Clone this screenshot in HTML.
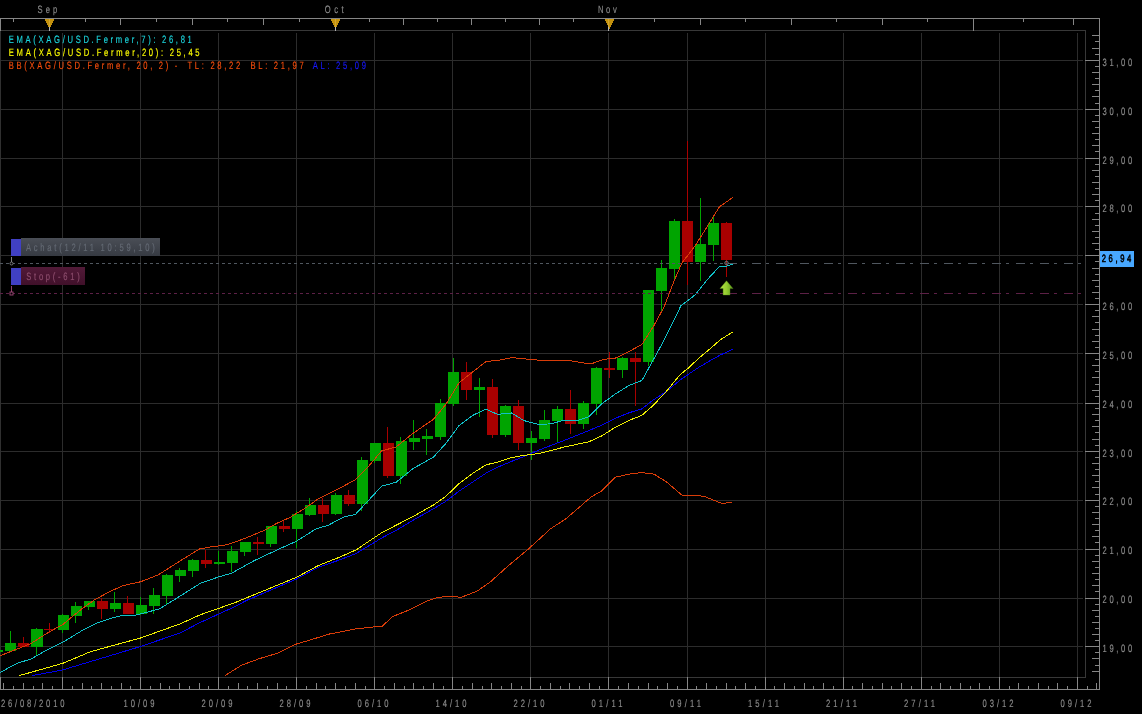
<!DOCTYPE html>
<html lang="fr"><head><meta charset="utf-8"><title>XAG/USD</title>
<style>html,body{margin:0;padding:0;background:#000;overflow:hidden}svg{display:block}text{text-rendering:geometricPrecision}</style>
</head><body>
<svg width="1142" height="714" viewBox="0 0 1142 714"><g shape-rendering="crispEdges">
<rect x="62" y="33" width="1" height="644" fill="#2c2c2c"/>
<rect x="140" y="33" width="1" height="644" fill="#2c2c2c"/>
<rect x="218" y="33" width="1" height="644" fill="#2c2c2c"/>
<rect x="296" y="33" width="1" height="644" fill="#2c2c2c"/>
<rect x="374" y="33" width="1" height="644" fill="#2c2c2c"/>
<rect x="452" y="33" width="1" height="644" fill="#2c2c2c"/>
<rect x="530" y="33" width="1" height="644" fill="#2c2c2c"/>
<rect x="608" y="33" width="1" height="644" fill="#2c2c2c"/>
<rect x="687" y="33" width="1" height="644" fill="#2c2c2c"/>
<rect x="765" y="33" width="1" height="644" fill="#2c2c2c"/>
<rect x="843" y="33" width="1" height="644" fill="#2c2c2c"/>
<rect x="921" y="33" width="1" height="644" fill="#2c2c2c"/>
<rect x="999" y="33" width="1" height="644" fill="#2c2c2c"/>
<rect x="1077" y="33" width="1" height="644" fill="#2c2c2c"/>
<rect x="1" y="60" width="1082" height="1" fill="#2c2c2c"/>
<rect x="1" y="109" width="1082" height="1" fill="#2c2c2c"/>
<rect x="1" y="158" width="1082" height="1" fill="#2c2c2c"/>
<rect x="1" y="206" width="1082" height="1" fill="#2c2c2c"/>
<rect x="1" y="255" width="1082" height="1" fill="#2c2c2c"/>
<rect x="1" y="304" width="1082" height="1" fill="#2c2c2c"/>
<rect x="1" y="353" width="1082" height="1" fill="#2c2c2c"/>
<rect x="1" y="403" width="1082" height="1" fill="#2c2c2c"/>
<rect x="1" y="451" width="1082" height="1" fill="#2c2c2c"/>
<rect x="1" y="500" width="1082" height="1" fill="#2c2c2c"/>
<rect x="1" y="549" width="1082" height="1" fill="#2c2c2c"/>
<rect x="1" y="598" width="1082" height="1" fill="#2c2c2c"/>
<rect x="1" y="646" width="1082" height="1" fill="#2c2c2c"/>
<rect x="0" y="31" width="1" height="646" fill="#303030"/>
<rect x="0" y="30" width="1086" height="1" fill="#383838"/>
<rect x="1085" y="30" width="1" height="648" fill="#383838"/>
<rect x="0" y="677" width="1086" height="1" fill="#383838"/>
</g>
<g shape-rendering="crispEdges">
<rect x="-3" y="650" width="1" height="2" fill="#00a400"/>
<rect x="0" y="650" width="3" height="2" fill="#00a400"/>
<rect x="10" y="631" width="1" height="21" fill="#00a400"/>
<rect x="5" y="643" width="11" height="8" fill="#00a400"/>
<rect x="23" y="637" width="1" height="10" fill="#a80000"/>
<rect x="18" y="643" width="11" height="4" fill="#a80000"/>
<rect x="36" y="628" width="1" height="27" fill="#00a400"/>
<rect x="31" y="629" width="12" height="18" fill="#00a400"/>
<rect x="49" y="623" width="1" height="10" fill="#a80000"/>
<rect x="44" y="629" width="11" height="1" fill="#a80000"/>
<rect x="62" y="614" width="1" height="19" fill="#00a400"/>
<rect x="58" y="615" width="11" height="15" fill="#00a400"/>
<rect x="75" y="602" width="1" height="21" fill="#00a400"/>
<rect x="71" y="606" width="11" height="10" fill="#00a400"/>
<rect x="88" y="601" width="1" height="9" fill="#00a400"/>
<rect x="84" y="601" width="11" height="6" fill="#00a400"/>
<rect x="101" y="598" width="1" height="21" fill="#a80000"/>
<rect x="97" y="601" width="11" height="8" fill="#a80000"/>
<rect x="114" y="592" width="1" height="20" fill="#00a400"/>
<rect x="110" y="603" width="11" height="6" fill="#00a400"/>
<rect x="127" y="596" width="1" height="18" fill="#a80000"/>
<rect x="123" y="603" width="11" height="11" fill="#a80000"/>
<rect x="140" y="597" width="1" height="18" fill="#00a400"/>
<rect x="136" y="605" width="11" height="9" fill="#00a400"/>
<rect x="153" y="588" width="1" height="26" fill="#00a400"/>
<rect x="149" y="595" width="11" height="11" fill="#00a400"/>
<rect x="166" y="574" width="1" height="30" fill="#00a400"/>
<rect x="162" y="575" width="11" height="21" fill="#00a400"/>
<rect x="179" y="568" width="1" height="14" fill="#00a400"/>
<rect x="175" y="570" width="11" height="6" fill="#00a400"/>
<rect x="192" y="559" width="1" height="18" fill="#00a400"/>
<rect x="188" y="560" width="11" height="11" fill="#00a400"/>
<rect x="205" y="550" width="1" height="18" fill="#a80000"/>
<rect x="201" y="560" width="11" height="4" fill="#a80000"/>
<rect x="218" y="551" width="1" height="14" fill="#00a400"/>
<rect x="214" y="562" width="11" height="2" fill="#00a400"/>
<rect x="231" y="546" width="1" height="26" fill="#00a400"/>
<rect x="227" y="551" width="11" height="12" fill="#00a400"/>
<rect x="244" y="542" width="1" height="14" fill="#00a400"/>
<rect x="240" y="542" width="11" height="10" fill="#00a400"/>
<rect x="257" y="537" width="1" height="18" fill="#a80000"/>
<rect x="253" y="542" width="11" height="2" fill="#a80000"/>
<rect x="270" y="526" width="1" height="21" fill="#00a400"/>
<rect x="266" y="526" width="11" height="18" fill="#00a400"/>
<rect x="283" y="520" width="1" height="12" fill="#a80000"/>
<rect x="279" y="526" width="11" height="3" fill="#a80000"/>
<rect x="296" y="511" width="1" height="37" fill="#00a400"/>
<rect x="292" y="514" width="11" height="15" fill="#00a400"/>
<rect x="309" y="498" width="1" height="18" fill="#00a400"/>
<rect x="305" y="505" width="11" height="10" fill="#00a400"/>
<rect x="322" y="498" width="1" height="24" fill="#a80000"/>
<rect x="318" y="505" width="11" height="9" fill="#a80000"/>
<rect x="335" y="493" width="1" height="22" fill="#00a400"/>
<rect x="331" y="495" width="11" height="19" fill="#00a400"/>
<rect x="348" y="490" width="1" height="16" fill="#a80000"/>
<rect x="344" y="495" width="11" height="9" fill="#a80000"/>
<rect x="361" y="457" width="1" height="54" fill="#00a400"/>
<rect x="357" y="460" width="11" height="44" fill="#00a400"/>
<rect x="374" y="443" width="1" height="20" fill="#00a400"/>
<rect x="370" y="443" width="11" height="18" fill="#00a400"/>
<rect x="387" y="427" width="1" height="51" fill="#a80000"/>
<rect x="383" y="443" width="11" height="33" fill="#a80000"/>
<rect x="400" y="437" width="1" height="47" fill="#00a400"/>
<rect x="396" y="441" width="11" height="35" fill="#00a400"/>
<rect x="413" y="420" width="1" height="30" fill="#00a400"/>
<rect x="409" y="438" width="11" height="4" fill="#00a400"/>
<rect x="426" y="429" width="1" height="26" fill="#00a400"/>
<rect x="422" y="436" width="11" height="3" fill="#00a400"/>
<rect x="440" y="399" width="1" height="41" fill="#00a400"/>
<rect x="435" y="403" width="11" height="34" fill="#00a400"/>
<rect x="453" y="358" width="1" height="48" fill="#00a400"/>
<rect x="448" y="372" width="11" height="32" fill="#00a400"/>
<rect x="466" y="362" width="1" height="38" fill="#a80000"/>
<rect x="461" y="372" width="11" height="18" fill="#a80000"/>
<rect x="479" y="378" width="1" height="39" fill="#00a400"/>
<rect x="474" y="387" width="11" height="3" fill="#00a400"/>
<rect x="492" y="379" width="1" height="59" fill="#a80000"/>
<rect x="487" y="387" width="11" height="48" fill="#a80000"/>
<rect x="505" y="405" width="1" height="32" fill="#00a400"/>
<rect x="500" y="406" width="11" height="29" fill="#00a400"/>
<rect x="518" y="400" width="1" height="50" fill="#a80000"/>
<rect x="513" y="406" width="11" height="37" fill="#a80000"/>
<rect x="531" y="431" width="1" height="29" fill="#00a400"/>
<rect x="526" y="438" width="11" height="5" fill="#00a400"/>
<rect x="544" y="410" width="1" height="31" fill="#00a400"/>
<rect x="539" y="420" width="11" height="19" fill="#00a400"/>
<rect x="557" y="406" width="1" height="37" fill="#00a400"/>
<rect x="552" y="409" width="11" height="12" fill="#00a400"/>
<rect x="570" y="390" width="1" height="44" fill="#a80000"/>
<rect x="565" y="409" width="11" height="15" fill="#a80000"/>
<rect x="583" y="401" width="1" height="28" fill="#00a400"/>
<rect x="578" y="403" width="11" height="21" fill="#00a400"/>
<rect x="596" y="367" width="1" height="48" fill="#00a400"/>
<rect x="591" y="368" width="11" height="36" fill="#00a400"/>
<rect x="609" y="352" width="1" height="26" fill="#a80000"/>
<rect x="604" y="368" width="11" height="2" fill="#a80000"/>
<rect x="622" y="357" width="1" height="21" fill="#00a400"/>
<rect x="617" y="358" width="11" height="12" fill="#00a400"/>
<rect x="635" y="352" width="1" height="54" fill="#a80000"/>
<rect x="630" y="358" width="11" height="4" fill="#a80000"/>
<rect x="648" y="290" width="1" height="76" fill="#00a400"/>
<rect x="643" y="290" width="11" height="72" fill="#00a400"/>
<rect x="661" y="260" width="1" height="52" fill="#00a400"/>
<rect x="656" y="268" width="11" height="23" fill="#00a400"/>
<rect x="674" y="219" width="1" height="62" fill="#00a400"/>
<rect x="669" y="221" width="11" height="48" fill="#00a400"/>
<rect x="687" y="141" width="1" height="144" fill="#a80000"/>
<rect x="682" y="221" width="11" height="41" fill="#a80000"/>
<rect x="700" y="198" width="1" height="83" fill="#00a400"/>
<rect x="695" y="244" width="11" height="18" fill="#00a400"/>
<rect x="713" y="215" width="1" height="46" fill="#00a400"/>
<rect x="708" y="223" width="11" height="22" fill="#00a400"/>
<rect x="726" y="222" width="1" height="55" fill="#a80000"/>
<rect x="721" y="223" width="11" height="37" fill="#a80000"/>
</g>
<polyline points="225.2,675.4 242.0,665.0 259.5,658.6 277.0,653.4 294.6,644.6 312.0,639.4 329.6,634.0 355.9,628.9 371.6,627.1 382.0,626.4 392.6,616.6 410.0,609.6 427.7,600.8 438.2,597.3 452.2,596.3 461.0,597.3 476.7,591.4 490.7,581.6 508.2,565.8 529.2,548.3 550.3,529.0 566.2,518.5 578.5,508.0 590.8,497.2 601.6,491.0 615.5,477.2 629.3,474.1 641.7,472.6 654.0,474.1 666.3,481.8 681.7,495.0 695.6,495.0 704.8,496.6 721.8,503.4 732.0,502.5" fill="none" stroke="#d83c08" stroke-width="1.0" stroke-linejoin="round" shape-rendering="crispEdges"/>
<polyline points="0.0,655.8 31.0,643.5 49.0,632.0 62.5,624.7 82.0,608.7 95.0,599.5 111.0,591.0 123.5,585.5 140.5,581.8 158.0,575.0 180.0,561.0 199.5,549.0 208.7,547.2 227.2,544.7 244.0,538.8 264.2,530.4 277.6,522.9 289.4,517.8 304.5,508.6 318.0,499.0 340.0,488.0 355.2,479.8 367.8,467.2 381.7,450.8 396.0,447.0 413.2,433.2 433.4,419.3 446.0,404.2 459.0,382.8 472.4,372.2 486.3,361.3 497.6,360.6 511.5,357.6 524.0,358.8 539.0,360.2 570.0,360.7 584.3,363.1 591.4,363.8 603.3,359.5 616.4,357.9 629.5,351.2 641.9,344.5 654.0,325.5 664.2,306.7 674.0,281.2 681.9,263.0 695.0,246.0 708.1,225.2 719.4,206.8 723.2,204.3 732.8,197.3" fill="none" stroke="#d83c08" stroke-width="1.0" stroke-linejoin="round" shape-rendering="crispEdges"/>
<polyline points="32.0,675.6 62.5,670.0 140.5,646.5 180.0,633.0 200.0,622.6 235.0,606.6 247.4,600.0 296.3,579.1 318.0,567.4 340.0,559.8 355.9,553.6 382.0,537.8 396.8,530.0 413.2,520.2 433.4,508.8 446.0,501.2 459.0,491.2 472.4,482.3 486.3,473.0 497.6,467.2 511.5,461.4 524.0,456.6 539.0,450.0 564.0,440.5 589.0,430.5 602.1,425.0 615.2,418.3 629.5,412.6 641.6,409.0 653.1,400.1 666.2,391.6 680.1,380.1 687.8,374.7 699.3,367.0 711.7,359.8 720.9,354.7 732.9,349.3" fill="none" stroke="#0000f0" stroke-width="1.0" stroke-linejoin="round" shape-rendering="crispEdges"/>
<polyline points="19.3,675.6 62.5,663.4 90.8,651.6 140.5,638.0 180.0,623.9 200.0,614.9 235.0,602.6 296.3,577.4 318.0,565.7 340.0,557.0 355.9,550.0 382.0,532.5 413.2,516.4 433.4,505.0 446.0,496.2 459.0,483.6 472.4,473.5 486.3,464.7 497.6,462.2 511.5,457.6 524.0,455.3 539.0,453.6 564.0,447.1 589.0,441.7 602.1,435.7 615.2,427.4 629.5,420.2 641.6,415.5 653.1,405.5 666.2,391.6 680.1,374.7 687.8,368.5 699.3,357.8 711.7,347.4 720.9,339.3 732.9,332.0" fill="none" stroke="#f0f000" stroke-width="1.0" stroke-linejoin="round" shape-rendering="crispEdges"/>
<polyline points="0.0,672.6 16.8,663.4 31.0,659.0 48.7,649.0 62.5,642.4 82.0,630.6 95.8,623.5 111.0,618.3 123.5,615.0 136.0,615.0 148.0,612.0 159.7,608.7 174.3,599.7 200.3,583.4 218.0,577.1 231.4,573.3 254.1,560.7 277.6,549.7 296.3,541.3 316.3,528.7 328.0,525.4 343.9,516.9 355.2,514.6 367.8,501.2 381.7,486.1 396.0,482.3 413.2,468.5 433.4,457.1 446.0,443.3 459.0,425.6 472.4,415.5 485.8,409.2 497.6,414.3 511.5,413.0 524.0,420.6 539.0,424.5 551.0,423.8 564.0,420.2 576.0,421.0 589.0,416.7 602.1,403.6 615.2,394.0 629.5,385.2 641.9,380.5 654.0,358.5 664.2,340.0 674.0,320.4 680.9,305.7 695.0,295.0 708.1,278.7 719.4,266.6 727.0,266.0 732.8,264.0" fill="none" stroke="#10c0c8" stroke-width="1.0" stroke-linejoin="round" shape-rendering="crispEdges"/>
<g shape-rendering="crispEdges">
<path d="M0 263.5H727" stroke="#50575f" stroke-width="1" stroke-dasharray="3 3" fill="none"/>
<path d="M728 263.5H1083" stroke="#50575f" stroke-width="1" stroke-dasharray="9 5 3 7" fill="none"/>
<path d="M0 293.5H727" stroke="#5c2046" stroke-width="1" stroke-dasharray="3 3" fill="none"/>
<path d="M728 293.5H1083" stroke="#5c2046" stroke-width="1" stroke-dasharray="9 5 3 7" fill="none"/>
</g>
<g shape-rendering="crispEdges">
<rect x="0" y="18" width="1100" height="1" fill="#868686"/>
<rect x="1099" y="18" width="1" height="672" fill="#868686"/>
<rect x="0" y="689" width="1100" height="1" fill="#868686"/>
<rect x="0" y="18" width="1" height="13" fill="#868686"/>
<rect x="0" y="677" width="1" height="13" fill="#868686"/>
<rect x="13" y="19" width="1" height="3" fill="#868686"/>
<rect x="85" y="19" width="1" height="3" fill="#868686"/>
<rect x="120" y="19" width="1" height="6" fill="#868686"/>
<rect x="156" y="19" width="1" height="3" fill="#868686"/>
<rect x="192" y="19" width="1" height="6" fill="#868686"/>
<rect x="227" y="19" width="1" height="3" fill="#868686"/>
<rect x="263" y="19" width="1" height="6" fill="#868686"/>
<rect x="299" y="19" width="1" height="3" fill="#868686"/>
<rect x="369" y="19" width="1" height="3" fill="#868686"/>
<rect x="403" y="19" width="1" height="6" fill="#868686"/>
<rect x="437" y="19" width="1" height="3" fill="#868686"/>
<rect x="471" y="19" width="1" height="6" fill="#868686"/>
<rect x="505" y="19" width="1" height="3" fill="#868686"/>
<rect x="539" y="19" width="1" height="6" fill="#868686"/>
<rect x="573" y="19" width="1" height="3" fill="#868686"/>
<rect x="654" y="19" width="1" height="3" fill="#868686"/>
<rect x="700" y="19" width="1" height="6" fill="#868686"/>
<rect x="745" y="19" width="1" height="3" fill="#868686"/>
<rect x="791" y="19" width="1" height="6" fill="#868686"/>
<rect x="836" y="19" width="1" height="3" fill="#868686"/>
<rect x="882" y="19" width="1" height="6" fill="#868686"/>
<rect x="927" y="19" width="1" height="3" fill="#868686"/>
<rect x="973" y="19" width="1" height="12" fill="#868686"/>
<rect x="1023" y="19" width="1" height="3" fill="#868686"/>
<rect x="1073" y="19" width="1" height="6" fill="#868686"/>
<rect x="3" y="683" width="1" height="6" fill="#868686"/>
<rect x="13" y="686" width="1" height="3" fill="#868686"/>
<rect x="23" y="683" width="1" height="6" fill="#868686"/>
<rect x="33" y="686" width="1" height="3" fill="#868686"/>
<rect x="42" y="683" width="1" height="6" fill="#868686"/>
<rect x="52" y="686" width="1" height="3" fill="#868686"/>
<rect x="62" y="677" width="1" height="12" fill="#868686"/>
<rect x="72" y="686" width="1" height="3" fill="#868686"/>
<rect x="82" y="683" width="1" height="6" fill="#868686"/>
<rect x="91" y="686" width="1" height="3" fill="#868686"/>
<rect x="101" y="683" width="1" height="6" fill="#868686"/>
<rect x="111" y="686" width="1" height="3" fill="#868686"/>
<rect x="121" y="683" width="1" height="6" fill="#868686"/>
<rect x="130" y="686" width="1" height="3" fill="#868686"/>
<rect x="140" y="677" width="1" height="12" fill="#868686"/>
<rect x="150" y="686" width="1" height="3" fill="#868686"/>
<rect x="160" y="683" width="1" height="6" fill="#868686"/>
<rect x="169" y="686" width="1" height="3" fill="#868686"/>
<rect x="179" y="683" width="1" height="6" fill="#868686"/>
<rect x="189" y="686" width="1" height="3" fill="#868686"/>
<rect x="199" y="683" width="1" height="6" fill="#868686"/>
<rect x="208" y="686" width="1" height="3" fill="#868686"/>
<rect x="218" y="677" width="1" height="12" fill="#868686"/>
<rect x="228" y="686" width="1" height="3" fill="#868686"/>
<rect x="238" y="683" width="1" height="6" fill="#868686"/>
<rect x="247" y="686" width="1" height="3" fill="#868686"/>
<rect x="257" y="683" width="1" height="6" fill="#868686"/>
<rect x="267" y="686" width="1" height="3" fill="#868686"/>
<rect x="277" y="683" width="1" height="6" fill="#868686"/>
<rect x="286" y="686" width="1" height="3" fill="#868686"/>
<rect x="296" y="677" width="1" height="12" fill="#868686"/>
<rect x="306" y="686" width="1" height="3" fill="#868686"/>
<rect x="316" y="683" width="1" height="6" fill="#868686"/>
<rect x="325" y="686" width="1" height="3" fill="#868686"/>
<rect x="335" y="683" width="1" height="6" fill="#868686"/>
<rect x="345" y="686" width="1" height="3" fill="#868686"/>
<rect x="355" y="683" width="1" height="6" fill="#868686"/>
<rect x="365" y="686" width="1" height="3" fill="#868686"/>
<rect x="374" y="677" width="1" height="12" fill="#868686"/>
<rect x="384" y="686" width="1" height="3" fill="#868686"/>
<rect x="394" y="683" width="1" height="6" fill="#868686"/>
<rect x="404" y="686" width="1" height="3" fill="#868686"/>
<rect x="413" y="683" width="1" height="6" fill="#868686"/>
<rect x="423" y="686" width="1" height="3" fill="#868686"/>
<rect x="433" y="683" width="1" height="6" fill="#868686"/>
<rect x="443" y="686" width="1" height="3" fill="#868686"/>
<rect x="452" y="677" width="1" height="12" fill="#868686"/>
<rect x="462" y="686" width="1" height="3" fill="#868686"/>
<rect x="472" y="683" width="1" height="6" fill="#868686"/>
<rect x="482" y="686" width="1" height="3" fill="#868686"/>
<rect x="491" y="683" width="1" height="6" fill="#868686"/>
<rect x="501" y="686" width="1" height="3" fill="#868686"/>
<rect x="511" y="683" width="1" height="6" fill="#868686"/>
<rect x="521" y="686" width="1" height="3" fill="#868686"/>
<rect x="530" y="677" width="1" height="12" fill="#868686"/>
<rect x="540" y="686" width="1" height="3" fill="#868686"/>
<rect x="550" y="683" width="1" height="6" fill="#868686"/>
<rect x="560" y="686" width="1" height="3" fill="#868686"/>
<rect x="569" y="683" width="1" height="6" fill="#868686"/>
<rect x="579" y="686" width="1" height="3" fill="#868686"/>
<rect x="589" y="683" width="1" height="6" fill="#868686"/>
<rect x="599" y="686" width="1" height="3" fill="#868686"/>
<rect x="608" y="677" width="1" height="12" fill="#868686"/>
<rect x="618" y="686" width="1" height="3" fill="#868686"/>
<rect x="628" y="683" width="1" height="6" fill="#868686"/>
<rect x="638" y="686" width="1" height="3" fill="#868686"/>
<rect x="648" y="683" width="1" height="6" fill="#868686"/>
<rect x="657" y="686" width="1" height="3" fill="#868686"/>
<rect x="667" y="683" width="1" height="6" fill="#868686"/>
<rect x="677" y="686" width="1" height="3" fill="#868686"/>
<rect x="687" y="677" width="1" height="12" fill="#868686"/>
<rect x="696" y="686" width="1" height="3" fill="#868686"/>
<rect x="706" y="683" width="1" height="6" fill="#868686"/>
<rect x="716" y="686" width="1" height="3" fill="#868686"/>
<rect x="726" y="683" width="1" height="6" fill="#868686"/>
<rect x="735" y="686" width="1" height="3" fill="#868686"/>
<rect x="745" y="683" width="1" height="6" fill="#868686"/>
<rect x="755" y="686" width="1" height="3" fill="#868686"/>
<rect x="765" y="677" width="1" height="12" fill="#868686"/>
<rect x="774" y="686" width="1" height="3" fill="#868686"/>
<rect x="784" y="683" width="1" height="6" fill="#868686"/>
<rect x="794" y="686" width="1" height="3" fill="#868686"/>
<rect x="804" y="683" width="1" height="6" fill="#868686"/>
<rect x="813" y="686" width="1" height="3" fill="#868686"/>
<rect x="823" y="683" width="1" height="6" fill="#868686"/>
<rect x="833" y="686" width="1" height="3" fill="#868686"/>
<rect x="843" y="677" width="1" height="12" fill="#868686"/>
<rect x="852" y="686" width="1" height="3" fill="#868686"/>
<rect x="862" y="683" width="1" height="6" fill="#868686"/>
<rect x="872" y="686" width="1" height="3" fill="#868686"/>
<rect x="882" y="683" width="1" height="6" fill="#868686"/>
<rect x="891" y="686" width="1" height="3" fill="#868686"/>
<rect x="901" y="683" width="1" height="6" fill="#868686"/>
<rect x="911" y="686" width="1" height="3" fill="#868686"/>
<rect x="921" y="677" width="1" height="12" fill="#868686"/>
<rect x="931" y="686" width="1" height="3" fill="#868686"/>
<rect x="940" y="683" width="1" height="6" fill="#868686"/>
<rect x="950" y="686" width="1" height="3" fill="#868686"/>
<rect x="960" y="683" width="1" height="6" fill="#868686"/>
<rect x="970" y="686" width="1" height="3" fill="#868686"/>
<rect x="979" y="683" width="1" height="6" fill="#868686"/>
<rect x="989" y="686" width="1" height="3" fill="#868686"/>
<rect x="999" y="677" width="1" height="12" fill="#868686"/>
<rect x="1009" y="686" width="1" height="3" fill="#868686"/>
<rect x="1018" y="683" width="1" height="6" fill="#868686"/>
<rect x="1028" y="686" width="1" height="3" fill="#868686"/>
<rect x="1038" y="683" width="1" height="6" fill="#868686"/>
<rect x="1048" y="686" width="1" height="3" fill="#868686"/>
<rect x="1057" y="683" width="1" height="6" fill="#868686"/>
<rect x="1067" y="686" width="1" height="3" fill="#868686"/>
<rect x="1077" y="677" width="1" height="12" fill="#868686"/>
<rect x="1087" y="686" width="1" height="3" fill="#868686"/>
<rect x="1096" y="683" width="1" height="6" fill="#868686"/>
<rect x="1092" y="35" width="7" height="1" fill="#868686"/>
<rect x="1095" y="41" width="4" height="1" fill="#868686"/>
<rect x="1092" y="48" width="7" height="1" fill="#868686"/>
<rect x="1095" y="54" width="4" height="1" fill="#868686"/>
<rect x="1085" y="60" width="14" height="1" fill="#868686"/>
<rect x="1095" y="66" width="4" height="1" fill="#868686"/>
<rect x="1092" y="72" width="7" height="1" fill="#868686"/>
<rect x="1095" y="78" width="4" height="1" fill="#868686"/>
<rect x="1092" y="84" width="7" height="1" fill="#868686"/>
<rect x="1095" y="90" width="4" height="1" fill="#868686"/>
<rect x="1092" y="96" width="7" height="1" fill="#868686"/>
<rect x="1095" y="103" width="4" height="1" fill="#868686"/>
<rect x="1085" y="109" width="14" height="1" fill="#868686"/>
<rect x="1095" y="115" width="4" height="1" fill="#868686"/>
<rect x="1092" y="121" width="7" height="1" fill="#868686"/>
<rect x="1095" y="127" width="4" height="1" fill="#868686"/>
<rect x="1092" y="133" width="7" height="1" fill="#868686"/>
<rect x="1095" y="139" width="4" height="1" fill="#868686"/>
<rect x="1092" y="145" width="7" height="1" fill="#868686"/>
<rect x="1095" y="151" width="4" height="1" fill="#868686"/>
<rect x="1085" y="158" width="14" height="1" fill="#868686"/>
<rect x="1095" y="164" width="4" height="1" fill="#868686"/>
<rect x="1092" y="170" width="7" height="1" fill="#868686"/>
<rect x="1095" y="176" width="4" height="1" fill="#868686"/>
<rect x="1092" y="182" width="7" height="1" fill="#868686"/>
<rect x="1095" y="188" width="4" height="1" fill="#868686"/>
<rect x="1092" y="194" width="7" height="1" fill="#868686"/>
<rect x="1095" y="200" width="4" height="1" fill="#868686"/>
<rect x="1085" y="206" width="14" height="1" fill="#868686"/>
<rect x="1095" y="213" width="4" height="1" fill="#868686"/>
<rect x="1092" y="219" width="7" height="1" fill="#868686"/>
<rect x="1095" y="225" width="4" height="1" fill="#868686"/>
<rect x="1092" y="231" width="7" height="1" fill="#868686"/>
<rect x="1095" y="237" width="4" height="1" fill="#868686"/>
<rect x="1092" y="243" width="7" height="1" fill="#868686"/>
<rect x="1095" y="249" width="4" height="1" fill="#868686"/>
<rect x="1085" y="255" width="14" height="1" fill="#868686"/>
<rect x="1095" y="261" width="4" height="1" fill="#868686"/>
<rect x="1092" y="268" width="7" height="1" fill="#868686"/>
<rect x="1095" y="274" width="4" height="1" fill="#868686"/>
<rect x="1092" y="280" width="7" height="1" fill="#868686"/>
<rect x="1095" y="286" width="4" height="1" fill="#868686"/>
<rect x="1092" y="292" width="7" height="1" fill="#868686"/>
<rect x="1095" y="298" width="4" height="1" fill="#868686"/>
<rect x="1085" y="304" width="14" height="1" fill="#868686"/>
<rect x="1095" y="310" width="4" height="1" fill="#868686"/>
<rect x="1092" y="316" width="7" height="1" fill="#868686"/>
<rect x="1095" y="322" width="4" height="1" fill="#868686"/>
<rect x="1092" y="329" width="7" height="1" fill="#868686"/>
<rect x="1095" y="335" width="4" height="1" fill="#868686"/>
<rect x="1092" y="341" width="7" height="1" fill="#868686"/>
<rect x="1095" y="347" width="4" height="1" fill="#868686"/>
<rect x="1085" y="353" width="14" height="1" fill="#868686"/>
<rect x="1095" y="359" width="4" height="1" fill="#868686"/>
<rect x="1092" y="365" width="7" height="1" fill="#868686"/>
<rect x="1095" y="371" width="4" height="1" fill="#868686"/>
<rect x="1092" y="377" width="7" height="1" fill="#868686"/>
<rect x="1095" y="384" width="4" height="1" fill="#868686"/>
<rect x="1092" y="390" width="7" height="1" fill="#868686"/>
<rect x="1095" y="396" width="4" height="1" fill="#868686"/>
<rect x="1085" y="403" width="14" height="1" fill="#868686"/>
<rect x="1095" y="408" width="4" height="1" fill="#868686"/>
<rect x="1092" y="414" width="7" height="1" fill="#868686"/>
<rect x="1095" y="420" width="4" height="1" fill="#868686"/>
<rect x="1092" y="426" width="7" height="1" fill="#868686"/>
<rect x="1095" y="432" width="4" height="1" fill="#868686"/>
<rect x="1092" y="439" width="7" height="1" fill="#868686"/>
<rect x="1095" y="445" width="4" height="1" fill="#868686"/>
<rect x="1085" y="451" width="14" height="1" fill="#868686"/>
<rect x="1095" y="457" width="4" height="1" fill="#868686"/>
<rect x="1092" y="463" width="7" height="1" fill="#868686"/>
<rect x="1095" y="469" width="4" height="1" fill="#868686"/>
<rect x="1092" y="475" width="7" height="1" fill="#868686"/>
<rect x="1095" y="481" width="4" height="1" fill="#868686"/>
<rect x="1092" y="487" width="7" height="1" fill="#868686"/>
<rect x="1095" y="494" width="4" height="1" fill="#868686"/>
<rect x="1085" y="500" width="14" height="1" fill="#868686"/>
<rect x="1095" y="506" width="4" height="1" fill="#868686"/>
<rect x="1092" y="512" width="7" height="1" fill="#868686"/>
<rect x="1095" y="518" width="4" height="1" fill="#868686"/>
<rect x="1092" y="524" width="7" height="1" fill="#868686"/>
<rect x="1095" y="530" width="4" height="1" fill="#868686"/>
<rect x="1092" y="536" width="7" height="1" fill="#868686"/>
<rect x="1095" y="542" width="4" height="1" fill="#868686"/>
<rect x="1085" y="549" width="14" height="1" fill="#868686"/>
<rect x="1095" y="555" width="4" height="1" fill="#868686"/>
<rect x="1092" y="561" width="7" height="1" fill="#868686"/>
<rect x="1095" y="567" width="4" height="1" fill="#868686"/>
<rect x="1092" y="573" width="7" height="1" fill="#868686"/>
<rect x="1095" y="579" width="4" height="1" fill="#868686"/>
<rect x="1092" y="585" width="7" height="1" fill="#868686"/>
<rect x="1095" y="591" width="4" height="1" fill="#868686"/>
<rect x="1085" y="598" width="14" height="1" fill="#868686"/>
<rect x="1095" y="604" width="4" height="1" fill="#868686"/>
<rect x="1092" y="610" width="7" height="1" fill="#868686"/>
<rect x="1095" y="616" width="4" height="1" fill="#868686"/>
<rect x="1092" y="622" width="7" height="1" fill="#868686"/>
<rect x="1095" y="628" width="4" height="1" fill="#868686"/>
<rect x="1092" y="634" width="7" height="1" fill="#868686"/>
<rect x="1095" y="640" width="4" height="1" fill="#868686"/>
<rect x="1085" y="646" width="14" height="1" fill="#868686"/>
<rect x="1095" y="652" width="4" height="1" fill="#868686"/>
<rect x="1092" y="658" width="7" height="1" fill="#868686"/>
<rect x="1095" y="665" width="4" height="1" fill="#868686"/>
<rect x="1092" y="671" width="7" height="1" fill="#868686"/>
</g>
<polygon points="44.7,19 54.3,19 49.5,29.2" fill="#c4920e" shape-rendering="crispEdges"/>
<rect x="49" y="19" width="1" height="8" fill="#d2a630" shape-rendering="crispEdges"/>
<rect x="49" y="27" width="1" height="4" fill="#b4b4b4" shape-rendering="crispEdges"/>
<polygon points="330.7,19 340.3,19 335.5,29.2" fill="#c4920e" shape-rendering="crispEdges"/>
<rect x="335" y="19" width="1" height="8" fill="#d2a630" shape-rendering="crispEdges"/>
<rect x="335" y="27" width="1" height="4" fill="#b4b4b4" shape-rendering="crispEdges"/>
<polygon points="604.7,19 614.3,19 609.5,29.2" fill="#c4920e" shape-rendering="crispEdges"/>
<rect x="608" y="19" width="1" height="8" fill="#d2a630" shape-rendering="crispEdges"/>
<rect x="608" y="27" width="1" height="4" fill="#b4b4b4" shape-rendering="crispEdges"/>
<text transform="translate(1102.6,66) scale(0.72,1)" font-family="Liberation Sans, DejaVu Sans, sans-serif" font-size="10.6" letter-spacing="3.89" word-spacing="-1.39" fill="#8c8c8c" stroke="#8c8c8c" stroke-width="0.15" text-anchor="start" textLength="45.00" lengthAdjust="spacing" xml:space="preserve">31,00</text>
<text transform="translate(1102.6,115) scale(0.72,1)" font-family="Liberation Sans, DejaVu Sans, sans-serif" font-size="10.6" letter-spacing="3.89" word-spacing="-1.39" fill="#8c8c8c" stroke="#8c8c8c" stroke-width="0.15" text-anchor="start" textLength="45.00" lengthAdjust="spacing" xml:space="preserve">30,00</text>
<text transform="translate(1102.6,164) scale(0.72,1)" font-family="Liberation Sans, DejaVu Sans, sans-serif" font-size="10.6" letter-spacing="3.89" word-spacing="-1.39" fill="#8c8c8c" stroke="#8c8c8c" stroke-width="0.15" text-anchor="start" textLength="45.00" lengthAdjust="spacing" xml:space="preserve">29,00</text>
<text transform="translate(1102.6,212) scale(0.72,1)" font-family="Liberation Sans, DejaVu Sans, sans-serif" font-size="10.6" letter-spacing="3.89" word-spacing="-1.39" fill="#8c8c8c" stroke="#8c8c8c" stroke-width="0.15" text-anchor="start" textLength="45.00" lengthAdjust="spacing" xml:space="preserve">28,00</text>
<text transform="translate(1102.6,310) scale(0.72,1)" font-family="Liberation Sans, DejaVu Sans, sans-serif" font-size="10.6" letter-spacing="3.89" word-spacing="-1.39" fill="#8c8c8c" stroke="#8c8c8c" stroke-width="0.15" text-anchor="start" textLength="45.00" lengthAdjust="spacing" xml:space="preserve">26,00</text>
<text transform="translate(1102.6,359) scale(0.72,1)" font-family="Liberation Sans, DejaVu Sans, sans-serif" font-size="10.6" letter-spacing="3.89" word-spacing="-1.39" fill="#8c8c8c" stroke="#8c8c8c" stroke-width="0.15" text-anchor="start" textLength="45.00" lengthAdjust="spacing" xml:space="preserve">25,00</text>
<text transform="translate(1102.6,408) scale(0.72,1)" font-family="Liberation Sans, DejaVu Sans, sans-serif" font-size="10.6" letter-spacing="3.89" word-spacing="-1.39" fill="#8c8c8c" stroke="#8c8c8c" stroke-width="0.15" text-anchor="start" textLength="45.00" lengthAdjust="spacing" xml:space="preserve">24,00</text>
<text transform="translate(1102.6,457) scale(0.72,1)" font-family="Liberation Sans, DejaVu Sans, sans-serif" font-size="10.6" letter-spacing="3.89" word-spacing="-1.39" fill="#8c8c8c" stroke="#8c8c8c" stroke-width="0.15" text-anchor="start" textLength="45.00" lengthAdjust="spacing" xml:space="preserve">23,00</text>
<text transform="translate(1102.6,505) scale(0.72,1)" font-family="Liberation Sans, DejaVu Sans, sans-serif" font-size="10.6" letter-spacing="3.89" word-spacing="-1.39" fill="#8c8c8c" stroke="#8c8c8c" stroke-width="0.15" text-anchor="start" textLength="45.00" lengthAdjust="spacing" xml:space="preserve">22,00</text>
<text transform="translate(1102.6,554) scale(0.72,1)" font-family="Liberation Sans, DejaVu Sans, sans-serif" font-size="10.6" letter-spacing="3.89" word-spacing="-1.39" fill="#8c8c8c" stroke="#8c8c8c" stroke-width="0.15" text-anchor="start" textLength="45.00" lengthAdjust="spacing" xml:space="preserve">21,00</text>
<text transform="translate(1102.6,603) scale(0.72,1)" font-family="Liberation Sans, DejaVu Sans, sans-serif" font-size="10.6" letter-spacing="3.89" word-spacing="-1.39" fill="#8c8c8c" stroke="#8c8c8c" stroke-width="0.15" text-anchor="start" textLength="45.00" lengthAdjust="spacing" xml:space="preserve">20,00</text>
<text transform="translate(1102.6,652) scale(0.72,1)" font-family="Liberation Sans, DejaVu Sans, sans-serif" font-size="10.6" letter-spacing="3.89" word-spacing="-1.39" fill="#8c8c8c" stroke="#8c8c8c" stroke-width="0.15" text-anchor="start" textLength="45.00" lengthAdjust="spacing" xml:space="preserve">19,00</text>
<text transform="translate(1,707) scale(0.72,1)" font-family="Liberation Sans, DejaVu Sans, sans-serif" font-size="10.6" letter-spacing="3.89" word-spacing="-1.39" fill="#8c8c8c" stroke="#8c8c8c" stroke-width="0.15" text-anchor="start" textLength="92.08" lengthAdjust="spacing" xml:space="preserve">26/08/2010</text>
<text transform="translate(123.5,707) scale(0.72,1)" font-family="Liberation Sans, DejaVu Sans, sans-serif" font-size="10.6" letter-spacing="3.89" word-spacing="-1.39" fill="#8c8c8c" stroke="#8c8c8c" stroke-width="0.15" text-anchor="start" textLength="46.94" lengthAdjust="spacing" xml:space="preserve">10/09</text>
<text transform="translate(201.5,707) scale(0.72,1)" font-family="Liberation Sans, DejaVu Sans, sans-serif" font-size="10.6" letter-spacing="3.89" word-spacing="-1.39" fill="#8c8c8c" stroke="#8c8c8c" stroke-width="0.15" text-anchor="start" textLength="46.94" lengthAdjust="spacing" xml:space="preserve">20/09</text>
<text transform="translate(279.5,707) scale(0.72,1)" font-family="Liberation Sans, DejaVu Sans, sans-serif" font-size="10.6" letter-spacing="3.89" word-spacing="-1.39" fill="#8c8c8c" stroke="#8c8c8c" stroke-width="0.15" text-anchor="start" textLength="46.94" lengthAdjust="spacing" xml:space="preserve">28/09</text>
<text transform="translate(357.5,707) scale(0.72,1)" font-family="Liberation Sans, DejaVu Sans, sans-serif" font-size="10.6" letter-spacing="3.89" word-spacing="-1.39" fill="#8c8c8c" stroke="#8c8c8c" stroke-width="0.15" text-anchor="start" textLength="46.94" lengthAdjust="spacing" xml:space="preserve">06/10</text>
<text transform="translate(435.5,707) scale(0.72,1)" font-family="Liberation Sans, DejaVu Sans, sans-serif" font-size="10.6" letter-spacing="3.89" word-spacing="-1.39" fill="#8c8c8c" stroke="#8c8c8c" stroke-width="0.15" text-anchor="start" textLength="46.94" lengthAdjust="spacing" xml:space="preserve">14/10</text>
<text transform="translate(513.5,707) scale(0.72,1)" font-family="Liberation Sans, DejaVu Sans, sans-serif" font-size="10.6" letter-spacing="3.89" word-spacing="-1.39" fill="#8c8c8c" stroke="#8c8c8c" stroke-width="0.15" text-anchor="start" textLength="46.94" lengthAdjust="spacing" xml:space="preserve">22/10</text>
<text transform="translate(591.5,707) scale(0.72,1)" font-family="Liberation Sans, DejaVu Sans, sans-serif" font-size="10.6" letter-spacing="3.89" word-spacing="-1.39" fill="#8c8c8c" stroke="#8c8c8c" stroke-width="0.15" text-anchor="start" textLength="46.94" lengthAdjust="spacing" xml:space="preserve">01/11</text>
<text transform="translate(670.0,707) scale(0.72,1)" font-family="Liberation Sans, DejaVu Sans, sans-serif" font-size="10.6" letter-spacing="3.89" word-spacing="-1.39" fill="#8c8c8c" stroke="#8c8c8c" stroke-width="0.15" text-anchor="start" textLength="46.94" lengthAdjust="spacing" xml:space="preserve">09/11</text>
<text transform="translate(748.0,707) scale(0.72,1)" font-family="Liberation Sans, DejaVu Sans, sans-serif" font-size="10.6" letter-spacing="3.89" word-spacing="-1.39" fill="#8c8c8c" stroke="#8c8c8c" stroke-width="0.15" text-anchor="start" textLength="46.94" lengthAdjust="spacing" xml:space="preserve">15/11</text>
<text transform="translate(826.0,707) scale(0.72,1)" font-family="Liberation Sans, DejaVu Sans, sans-serif" font-size="10.6" letter-spacing="3.89" word-spacing="-1.39" fill="#8c8c8c" stroke="#8c8c8c" stroke-width="0.15" text-anchor="start" textLength="46.94" lengthAdjust="spacing" xml:space="preserve">21/11</text>
<text transform="translate(904.0,707) scale(0.72,1)" font-family="Liberation Sans, DejaVu Sans, sans-serif" font-size="10.6" letter-spacing="3.89" word-spacing="-1.39" fill="#8c8c8c" stroke="#8c8c8c" stroke-width="0.15" text-anchor="start" textLength="46.94" lengthAdjust="spacing" xml:space="preserve">27/11</text>
<text transform="translate(982.5,707) scale(0.72,1)" font-family="Liberation Sans, DejaVu Sans, sans-serif" font-size="10.6" letter-spacing="3.89" word-spacing="-1.39" fill="#8c8c8c" stroke="#8c8c8c" stroke-width="0.15" text-anchor="start" textLength="46.94" lengthAdjust="spacing" xml:space="preserve">03/12</text>
<text transform="translate(1060.5,707) scale(0.72,1)" font-family="Liberation Sans, DejaVu Sans, sans-serif" font-size="10.6" letter-spacing="3.89" word-spacing="-1.39" fill="#8c8c8c" stroke="#8c8c8c" stroke-width="0.15" text-anchor="start" textLength="46.94" lengthAdjust="spacing" xml:space="preserve">09/12</text>
<text transform="translate(37.6,13) scale(0.72,1)" font-family="Liberation Sans, DejaVu Sans, sans-serif" font-size="10.6" letter-spacing="3.89" word-spacing="-1.39" fill="#8c8c8c" stroke="#8c8c8c" stroke-width="0.15" text-anchor="start" textLength="31.25" lengthAdjust="spacing" xml:space="preserve">Sep</text>
<text transform="translate(324.7,13) scale(0.72,1)" font-family="Liberation Sans, DejaVu Sans, sans-serif" font-size="10.6" letter-spacing="3.89" word-spacing="-1.39" fill="#8c8c8c" stroke="#8c8c8c" stroke-width="0.15" text-anchor="start" textLength="30.14" lengthAdjust="spacing" xml:space="preserve">Oct</text>
<text transform="translate(597.9,13) scale(0.72,1)" font-family="Liberation Sans, DejaVu Sans, sans-serif" font-size="10.6" letter-spacing="3.89" word-spacing="-1.39" fill="#8c8c8c" stroke="#8c8c8c" stroke-width="0.15" text-anchor="start" textLength="30.14" lengthAdjust="spacing" xml:space="preserve">Nov</text>
<text transform="translate(8.8,43) scale(0.72,1)" font-family="Liberation Sans, DejaVu Sans, sans-serif" font-size="10.6" letter-spacing="3.89" word-spacing="-1.39" fill="#1cd8e0" stroke="#1cd8e0" stroke-width="0.15" text-anchor="start" textLength="258.06" lengthAdjust="spacing" xml:space="preserve">EMA(XAG/USD.Fermer,7): 26,81</text>
<text transform="translate(8.8,56) scale(0.72,1)" font-family="Liberation Sans, DejaVu Sans, sans-serif" font-size="10.6" letter-spacing="3.89" word-spacing="-1.39" fill="#ffff00" stroke="#ffff00" stroke-width="0.15" text-anchor="start" textLength="268.89" lengthAdjust="spacing" xml:space="preserve">EMA(XAG/USD.Fermer,20): 25,45</text>
<text transform="translate(8.8,69) scale(0.72,1)" font-family="Liberation Sans, DejaVu Sans, sans-serif" font-size="10.6" letter-spacing="3.89" word-spacing="-1.39" fill="#fa4e0c" stroke="#fa4e0c" stroke-width="0.15" text-anchor="start" textLength="413.47" lengthAdjust="spacing" xml:space="preserve">BB(XAG/USD.Fermer, 20, 2) -  TL: 28,22  BL: 21,97</text>
<text transform="translate(312.8,69) scale(0.72,1)" font-family="Liberation Sans, DejaVu Sans, sans-serif" font-size="10.6" letter-spacing="3.89" word-spacing="-1.39" fill="#1818ff" stroke="#1818ff" stroke-width="0.15" text-anchor="start" textLength="77.78" lengthAdjust="spacing" xml:space="preserve">AL: 25,09</text>
<defs><linearGradient id="ga" x1="0" y1="0" x2="0" y2="1"><stop offset="0" stop-color="#4a4e56"/><stop offset="1" stop-color="#363a42"/></linearGradient><linearGradient id="gs" x1="0" y1="0" x2="0" y2="1"><stop offset="0" stop-color="#521a38"/><stop offset="1" stop-color="#40102a"/></linearGradient><linearGradient id="gar" x1="0" y1="0" x2="1" y2="0"><stop offset="0" stop-color="#b4e248"/><stop offset="0.5" stop-color="#94cc30"/><stop offset="1" stop-color="#5c981c"/></linearGradient></defs>
<g shape-rendering="crispEdges">
<rect x="21" y="238" width="139" height="18" fill="url(#ga)"/>
<rect x="11" y="239" width="10" height="17" fill="#4040c4"/>
<rect x="21" y="267" width="64" height="18" fill="url(#gs)"/>
<rect x="11" y="268" width="10" height="17" fill="#4040c4"/>
<rect x="11" y="257" width="1" height="5" fill="#808080"/>
<rect x="11" y="286" width="1" height="6" fill="#90406c"/>
</g>
<circle cx="11.5" cy="263.5" r="1.5" fill="#000" stroke="#858585" stroke-width="0.9"/>
<rect x="10" y="292" width="3" height="3" fill="#000" stroke="#a04878" stroke-width="0.9"/>
<circle cx="726.5" cy="263" r="1.7" fill="none" stroke="#808890" stroke-width="0.9"/>
<text transform="translate(25.9,251.3) scale(0.72,1)" font-family="Liberation Sans, DejaVu Sans, sans-serif" font-size="10.6" letter-spacing="3.89" word-spacing="-1.39" fill="#646a74" stroke="#646a74" stroke-width="0.15" text-anchor="start" textLength="183.06" lengthAdjust="spacing" xml:space="preserve">Achat(12/11 10:59,10)</text>
<text transform="translate(26.3,280.2) scale(0.72,1)" font-family="Liberation Sans, DejaVu Sans, sans-serif" font-size="10.6" letter-spacing="3.89" word-spacing="-1.39" fill="#8e4e6e" stroke="#8e4e6e" stroke-width="0.15" text-anchor="start" textLength="78.06" lengthAdjust="spacing" xml:space="preserve">Stop(-61)</text>
<rect x="1100" y="251" width="34" height="16" fill="#48a8ff" shape-rendering="crispEdges"/>
<text transform="translate(1101.8,262) scale(0.72,1)" font-family="Liberation Sans, DejaVu Sans, sans-serif" font-size="10.6" letter-spacing="3.89" word-spacing="-1.39" fill="#000" stroke="#000" stroke-width="0.55" text-anchor="start" textLength="44.72" lengthAdjust="spacing" xml:space="preserve">26,94</text>
<polygon points="726.5,280.8 733,288.6 730,288.6 730,295 723.1,295 723.1,288.6 720,288.6" fill="url(#gar)" stroke="#5a9018" stroke-width="0.4"/></svg>
</body></html>
